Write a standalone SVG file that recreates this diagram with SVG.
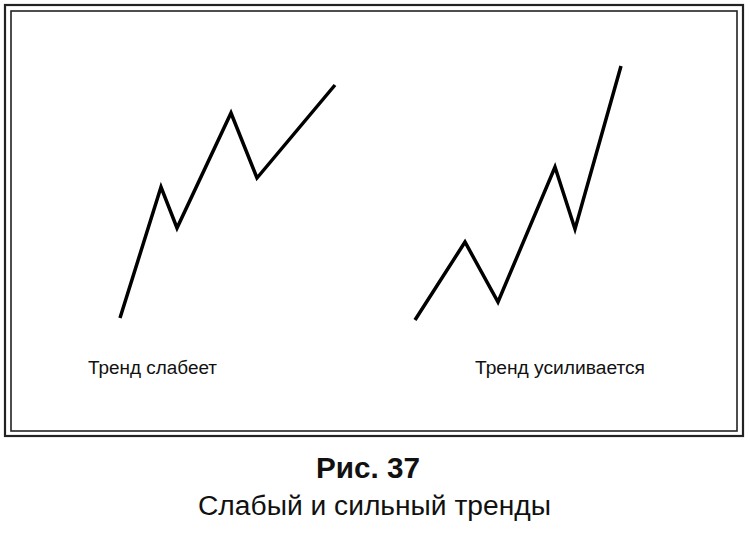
<svg xmlns="http://www.w3.org/2000/svg" width="750" height="534" viewBox="0 0 750 534">
<style>
.line{fill:none;stroke:#000;stroke-width:3.5;stroke-linejoin:miter;stroke-linecap:butt}
.lbl{font-family:"Liberation Sans",Arial,sans-serif;font-size:18px;fill:#111}
.cap{font-family:"Liberation Sans",Arial,sans-serif;fill:#111}
</style>
<rect width="750" height="534" fill="#fff"/>
<g id="frame">
<rect x="5" y="5" width="738" height="431" fill="none" stroke="#222" stroke-width="2.2"/>
<rect x="11" y="11" width="726" height="420" fill="none" stroke="#222" stroke-width="1.6"/>
</g>
<g id="connectors">
<polyline id="weak" class="line" points="120,318 161,187 177,228 231,113 257,178 335,85"/>
<polyline id="strong" class="line" points="415,320 465,242 498,302 555,167 575,229 621,66"/>
</g>
<g id="label-weak"><text class="lbl" x="88" y="374" textLength="129" lengthAdjust="spacingAndGlyphs">Тренд слабеет</text></g>
<g id="label-strong"><text class="lbl" x="475" y="374" textLength="170" lengthAdjust="spacingAndGlyphs">Тренд усиливается</text></g>
<g id="caption">
<text class="cap" x="316" y="478" font-size="29" font-weight="bold" textLength="104" lengthAdjust="spacingAndGlyphs">Рис. 37</text>
<text class="cap" x="198" y="515" font-size="27" textLength="353" lengthAdjust="spacingAndGlyphs">Слабый и сильный тренды</text>
</g>
</svg>
